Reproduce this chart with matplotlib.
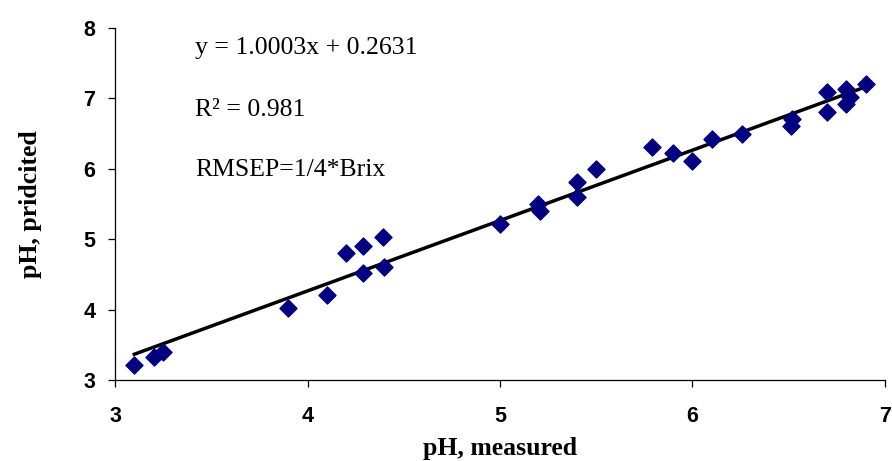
import numpy as np
import matplotlib
matplotlib.use('Agg')
import matplotlib.pyplot as plt

# measured vs predicted pH
ph_measured = [3.10, 3.20, 3.25, 3.90, 4.10, 4.20, 4.29, 4.29, 4.39, 4.40,
               5.00, 5.20, 5.21, 5.40, 5.40, 5.50, 5.79, 5.90, 6.00, 6.10,
               6.26, 6.51, 6.52, 6.70, 6.70, 6.80, 6.80, 6.82, 6.90]
ph_predicted = [3.21, 3.33, 3.40, 4.02, 4.21, 4.80, 4.90, 4.52, 5.03, 4.60,
                5.22, 5.50, 5.40, 5.81, 5.60, 6.00, 6.31, 6.22, 6.11, 6.42,
                6.49, 6.61, 6.71, 7.09, 6.81, 7.13, 6.92, 7.02, 7.20]
slope = 1.0003
intercept = 0.2631

fig = plt.figure(figsize=(8.92, 4.61), dpi=100)
ax = fig.add_axes([0.129, 0.176, 0.863, 0.763])

ax.scatter(ph_measured, ph_predicted, marker='D', s=75, color='#000080', zorder=3)
xl = np.array([min(ph_measured), max(ph_measured)])
ax.plot(xl, slope * xl + intercept, color='black', lw=2.5, zorder=2)

ax.set_xlim(3, 7)
ax.set_ylim(3, 8)
ax.set_xticks([3, 4, 5, 6, 7])
ax.set_yticks([3, 4, 5, 6, 7, 8])
for s in ['top', 'right']:
    ax.spines[s].set_visible(False)
for s in ['left', 'bottom']:
    ax.spines[s].set_linewidth(0.9)
ax.tick_params(direction='out', length=5, width=0.9)
ax.tick_params(axis='x', pad=14)
ax.tick_params(axis='y', pad=9)
for lab in ax.get_xticklabels() + ax.get_yticklabels():
    lab.set_family('Liberation Sans')
    lab.set_fontweight('bold')
    lab.set_fontsize(15.5)

ax.set_xlabel('pH, measured', family='Liberation Serif', fontweight='bold', fontsize=18.5, labelpad=7)
ax.set_ylabel('pH, pridcited', family='Liberation Serif', fontweight='bold', fontsize=18.5, labelpad=30)

tk = dict(family='Liberation Serif', fontsize=18.5, va='center')
ax.text(3.415, 7.72, 'y = 1.0003x + 0.2631', **tk)
ax.text(3.415, 6.84, 'R² = 0.981', **tk)
ax.text(3.415, 5.98, 'RMSEP=1/4*Brix', **tk)

fig.savefig('out.png', dpi=100)
